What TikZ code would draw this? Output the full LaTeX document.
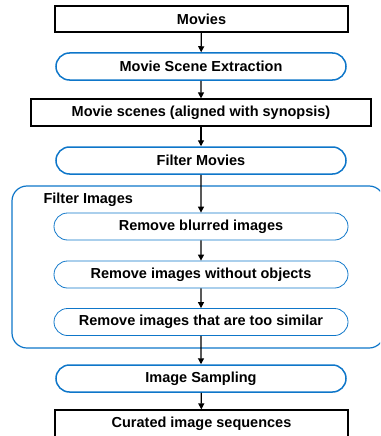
\documentclass[tikz,border=0pt]{standalone}
\usepackage{fontspec}
\setmainfont{Liberation Sans}
\usepackage{tikz}
\usetikzlibrary{arrows.meta,shapes.misc}
\definecolor{stepblue}{RGB}{14,118,201}

\begin{document}
\begin{tikzpicture}[
			x=1pt,y=1pt,
			font=\bfseries\fontsize{14.5}{16}\selectfont,
			databox/.style={rectangle,draw=black,line width=1.2pt,minimum height=26pt,inner sep=0pt},
			stepbox/.style={rounded rectangle,draw=stepblue,line width=1.5pt,minimum height=27pt,minimum width=290pt,inner sep=0pt},
			substep/.style={rounded rectangle,draw=stepblue,line width=0.8pt,minimum height=27pt,minimum width=294pt,inner sep=0pt},
			flow/.style={-{Triangle[length=6pt,width=6pt]},line width=1.2pt},
			]
			\useasboundingbox (0,0) rectangle (380,-436);
			\begin{scope}
			\clip (0,0) rectangle (380,-436);
			\draw [stepblue,line width=1.2pt,rounded corners=15pt] (12,-186) rectangle (384,-348);
			\node [anchor=west] (grp) at (40,-200) {Filter Images};
			\node [databox,minimum width=293pt] (movies) at (201.5,-19) {Movies};
			\node [stepbox] (extract) at (201,-66.5) {Movie Scene Extraction};
			\node [databox,minimum width=340pt,minimum height=27pt] (scenes) at (201,-112.5) {Movie scenes (aligned with synopsis)};
			\node [stepbox] (filtmov) at (201,-160.5) {Filter Movies};
			\node [substep] (blur) at (201,-226.5) {Remove blurred images};
			\node [substep] (objects) at (201,-274.5) {Remove images without objects};
			\node [substep] (similar) at (201,-322) {Remove images that are too similar};
			\node [stepbox] (sampling) at (201,-378.5) {Image Sampling};
			\node [databox,minimum width=293pt,minimum height=27pt] (curated) at (201.5,-423.5) {Curated image sequences};
			\end{scope}
			\draw [flow] (movies) -- (extract);
			\draw [flow] (extract) -- (scenes);
			\draw [flow] (scenes) -- (filtmov);
			\draw [flow] (filtmov) -- (blur);
			\draw [flow] (blur) -- (objects);
			\draw [flow] (objects) -- (similar);
			\draw [flow] (similar) -- (sampling);
			\draw [flow] (sampling) -- (curated);
		\end{tikzpicture}
\end{document}
